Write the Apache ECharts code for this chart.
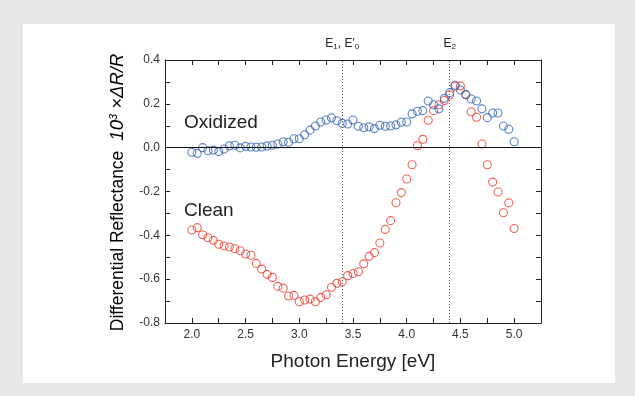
<!DOCTYPE html>
<html>
<head>
<meta charset="utf-8">
<script src="https://cdn.jsdelivr.net/npm/echarts@6/dist/echarts.min.js"></script>
<style>
html,body{margin:0;padding:0;background:#e6e7e9;}
#chart{position:absolute;left:0;top:0;width:635px;height:396px;}
</style>
</head>
<body>
<div id="chart"></div>
<script>
// ---- data ----
const photonEnergy = [2.00,2.05,2.10,2.15,2.20,2.25,2.30,2.35,2.40,2.45,2.50,2.55,2.60,2.65,2.70,2.75,2.80,2.85,2.90,2.95,
  3.00,3.05,3.10,3.15,3.20,3.25,3.30,3.35,3.40,3.45,3.50,3.55,3.60,3.65,3.70,3.75,3.80,3.85,3.90,3.95,
  4.00,4.05,4.10,4.15,4.20,4.25,4.30,4.35,4.40,4.45,4.50,4.55,4.60,4.65,4.70,4.75,4.80,4.85,4.90,4.95,5.00];
const oxidized = [-0.021,-0.026,0.000,-0.014,-0.011,-0.018,-0.006,0.008,0.011,-0.001,0.006,0.003,0.002,0.003,0.008,0.011,0.017,0.027,0.025,0.041,
  0.041,0.059,0.080,0.099,0.117,0.126,0.136,0.123,0.111,0.108,0.126,0.098,0.091,0.095,0.087,0.102,0.098,0.099,0.104,0.116,
  0.117,0.154,0.166,0.169,0.213,0.196,0.177,0.225,0.251,0.285,0.263,0.241,0.222,0.213,0.177,0.137,0.158,0.158,0.099,0.084,0.027];
const clean = [-0.376,-0.365,-0.397,-0.411,-0.423,-0.441,-0.449,-0.453,-0.461,-0.470,-0.485,-0.491,-0.528,-0.554,-0.578,-0.592,-0.633,-0.641,-0.677,-0.674,
  -0.703,-0.695,-0.691,-0.703,-0.683,-0.671,-0.637,-0.619,-0.612,-0.584,-0.574,-0.566,-0.530,-0.496,-0.479,-0.435,-0.373,-0.333,-0.251,-0.205,
  -0.143,-0.078,0.009,0.038,0.125,0.169,0.196,0.215,0.241,0.280,0.282,0.244,0.164,0.139,0.017,-0.078,-0.157,-0.202,-0.297,-0.252,-0.369];
const xTickLabels = ['2.0','2.5','3.0','3.5','4.0','4.5','5.0'];
const yTickLabels = ['-0.8','-0.6','-0.4','-0.2','0.0','0.2','0.4'];
const transitionEnergies = [3.4, 4.4];
const transitionLabels = ['E{s|1}, E\'{s|0}', 'E{s|2}'];
const seriesNames = ['Oxidized', 'Clean'];

// ---- chart ----
const FONT = '"Liberation Sans", Arial, Helvetica, sans-serif';
const chart = echarts.init(document.getElementById('chart'), null, {renderer: 'canvas'});

function xFmt(v) {
  const hit = xTickLabels.find(t => Math.abs(parseFloat(t) - v) < 1e-6);
  return hit || '';
}
function yFmt(v) {
  const hit = yTickLabels.find(t => Math.abs(parseFloat(t) - v) < 1e-6);
  return hit || '';
}
const pairs = (ys) => photonEnergy.map((x, i) => [x, ys[i]]);

const axisLine = {show: true, onZero: false, lineStyle: {color: '#222', width: 1}};
const axisTick = {show: true, inside: true, length: 5, lineStyle: {color: '#222', width: 1}};
const tickLabelStyle = {color: '#333', fontSize: 12, fontFamily: FONT};

const markLineData = transitionEnergies.map((e, i) => ({
  xAxis: e,
  lineStyle: {type: [1, 2], color: '#555', width: 1},
  label: {
    show: true, position: 'end', distance: 9,
    formatter: transitionLabels[i],
    color: '#222', fontSize: 12, fontFamily: FONT,
    rich: {s: {fontSize: 8, fontFamily: FONT, color: '#222', padding: [6, 0, 0, 0]}}
  }
}));
markLineData.push({yAxis: 0, lineStyle: {type: 'solid', color: '#111', width: 1}, label: {show: false}});

chart.setOption({
  backgroundColor: '#e6e7e9',
  animation: false,
  grid: {left: 165, top: 60, width: 376, height: 263, containLabel: false},
  xAxis: [{
    type: 'value', min: 1.75, max: 5.25, interval: 0.25, position: 'bottom',
    axisLine, axisTick,
    axisLabel: Object.assign({formatter: xFmt, margin: 6, showMinLabel: true, showMaxLabel: true}, tickLabelStyle),
    splitLine: {show: false},
    name: 'Photon Energy [eV]', nameLocation: 'middle', nameGap: 29,
    nameTextStyle: {color: '#222', fontSize: 19, fontFamily: FONT}
  }, {
    type: 'value', min: 1.75, max: 5.25, interval: 0.25, position: 'top',
    axisLine, axisTick, axisLabel: {show: false}, splitLine: {show: false}
  }],
  yAxis: [{
    type: 'value', min: -0.8, max: 0.4, interval: 0.1, position: 'left',
    axisLine, axisTick,
    axisLabel: Object.assign({formatter: yFmt, margin: 5}, tickLabelStyle),
    splitLine: {show: false}
  }, {
    type: 'value', min: -0.8, max: 0.4, interval: 0.1, position: 'right',
    axisLine, axisTick, axisLabel: {show: false}, splitLine: {show: false}
  }],
  graphic: [
    {type: 'rect', silent: true, z: -10, shape: {x: 23, y: 24, width: 592, height: 359}, style: {fill: '#ffffff'}},
    {type: 'text', silent: true, x: 184, y: 123, style: {text: seriesNames[0], fill: '#222', fontSize: 19, fontFamily: FONT, verticalAlign: 'middle'}},
    {type: 'text', silent: true, x: 184, y: 211, style: {text: seriesNames[1], fill: '#222', fontSize: 19, fontFamily: FONT, verticalAlign: 'middle'}},
    {type: 'text', silent: true, x: 118, y: 192.5, rotation: Math.PI / 2,
      style: {
        text: '{n|Differential Reflectance}   {i|10}{sup|3}{i| ×ΔR/R}',
        align: 'center', verticalAlign: 'middle',
        rich: {
          n: {fontSize: 17.5, fontFamily: FONT, color: '#222', lineHeight: 22},
          i: {fontSize: 18.5, fontFamily: FONT, fontStyle: 'italic', color: '#222', lineHeight: 22},
          sup: {fontSize: 11, fontFamily: FONT, fontStyle: 'italic', color: '#222', lineHeight: 22, padding: [0, 0, 8, 0]}
        }
      }}
  ],
  series: [{
    name: seriesNames[0], type: 'scatter', data: pairs(oxidized),
    symbol: 'circle', symbolSize: 8,
    itemStyle: {color: 'rgba(0,0,0,0)', borderColor: '#2f62b8', borderWidth: 1.1},
    markLine: {silent: true, symbol: 'none', animation: false, data: markLineData},
    z: 3
  }, {
    name: seriesNames[1], type: 'scatter', data: pairs(clean),
    symbol: 'circle', symbolSize: 8,
    itemStyle: {color: 'rgba(0,0,0,0)', borderColor: '#ec3b2c', borderWidth: 1.1},
    z: 2
  }]
});
</script>
</body>
</html>
